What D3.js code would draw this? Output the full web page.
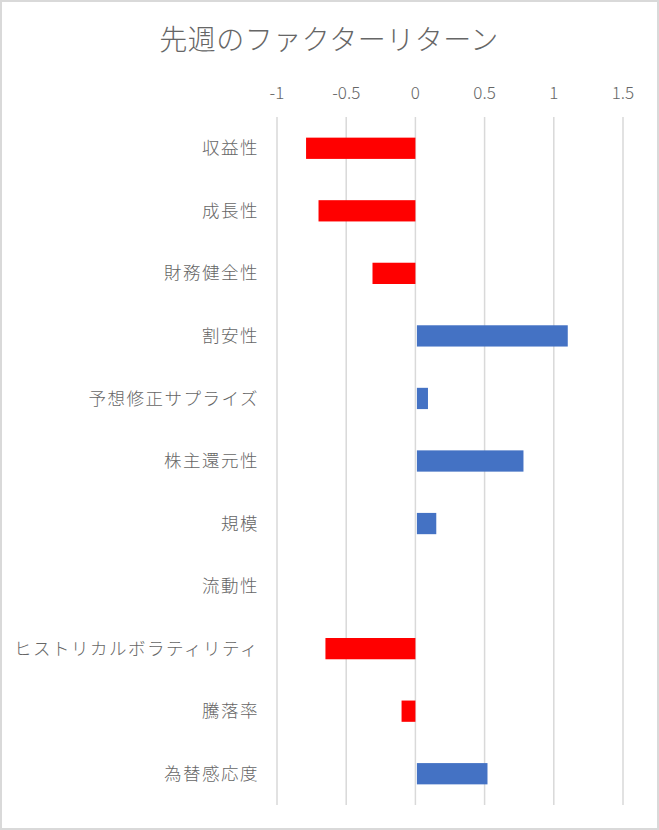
<!DOCTYPE html>
<html>
<head>
<meta charset="utf-8">
<script src="https://cdn.jsdelivr.net/npm/d3@7"></script>
<style>
  body { margin: 0; background: #fff; }
  svg { display: block; font-family: "Noto Sans CJK JP", "Noto Sans", sans-serif; font-weight: 300; }
</style>
</head>
<body>
<div id="container"></div>
<script>
/* DATA */
const factors = ["収益性", "成長性", "財務健全性", "割安性", "予想修正サプライズ", "株主還元性",
  "規模", "流動性", "ヒストリカルボラティリティ", "騰落率", "為替感応度"];
const returns = [-0.79, -0.70, -0.31, 1.09, 0.08, 0.77, 0.14, 0.0, -0.65, -0.10, 0.51];
const ticks = [-1, -0.5, 0, 0.5, 1, 1.5];
const title = "先週のファクターリターン";

/* CONSTANTS */
const width = 659;
const height = 830;
const margin = {top: 117, bottom: 25, left: 277, right: 36};

const svg = d3.select("#container")
  .append("svg")
  .attr("width", width)
  .attr("height", height);

// outer frame
svg.append("rect")
  .attr("x", 1).attr("y", 1)
  .attr("width", width - 2).attr("height", height - 2)
  .attr("fill", "#fff")
  .attr("stroke", "#d9d9d9")
  .attr("stroke-width", 2);

/* SCALES */
const xScale = d3.scaleLinear()
  .domain([-1, 1.5])
  .range([margin.left, width - margin.right]);

const yScale = d3.scaleBand()
  .domain(factors)
  .range([margin.top, height - margin.bottom])
  .paddingInner(0.66)
  .paddingOuter(0.33);

const yRow = d3.scaleBand()
  .domain(factors)
  .range([margin.top, height - margin.bottom]);

// gridlines
svg.append("g")
  .selectAll("line")
  .data(ticks)
  .join("line")
  .attr("x1", d => xScale(d))
  .attr("x2", d => xScale(d))
  .attr("y1", margin.top)
  .attr("y2", height - margin.bottom)
  .attr("stroke", "#d9d9d9")
  .attr("stroke-width", 1.5);

// tick labels (top)
svg.append("g")
  .selectAll("text")
  .data(ticks)
  .join("text")
  .attr("x", d => xScale(d))
  .attr("y", 99)
  .attr("text-anchor", "middle")
  .attr("font-size", 17)
  .attr("fill", "#666")
  .text(d => d);

// bars
svg.append("g")
  .selectAll("rect")
  .data(returns)
  .join("rect")
  .attr("x", d => d < 0 ? xScale(d) : xScale(0) + 1.5)
  .attr("y", (d, i) => yScale(factors[i]))
  .attr("width", d => Math.abs(xScale(d) - xScale(0)))
  .attr("height", yScale.bandwidth())
  .attr("fill", d => d < 0 ? "#ff0000" : "#4472c4");

// category labels
svg.append("g")
  .selectAll("text")
  .data(factors)
  .join("text")
  .attr("x", 259)
  .attr("y", d => yRow(d) + yRow.bandwidth() / 2)
  .attr("dy", "0.35em")
  .attr("text-anchor", "end")
  .attr("font-size", 17.5)
  .attr("letter-spacing", 1.5)
  .attr("fill", "#666")
  .text(d => d);

// title
svg.append("text")
  .attr("x", 329)
  .attr("y", 40)
  .attr("dy", "0.35em")
  .attr("text-anchor", "middle")
  .attr("font-size", 28)
  .attr("letter-spacing", 0.5)
  .attr("fill", "#666")
  .text(title);
</script>
</body>
</html>
